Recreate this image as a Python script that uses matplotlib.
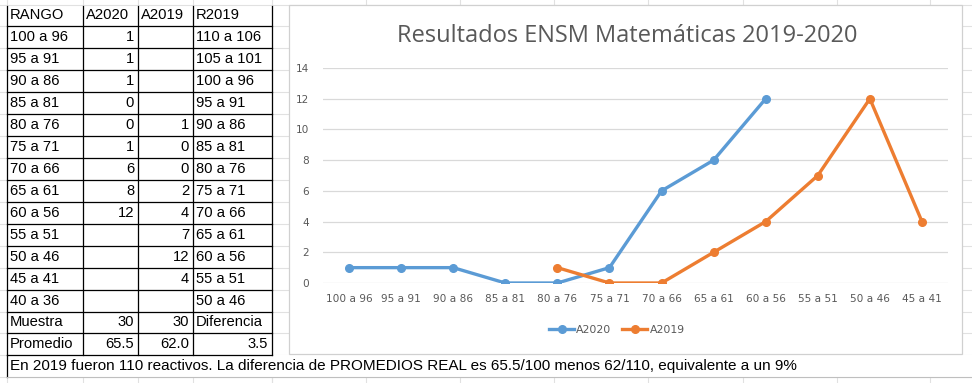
import numpy as np
import matplotlib
matplotlib.use("Agg")
import matplotlib.pyplot as plt
from matplotlib.patches import Rectangle

# data
categorias = ["100 a 96", "95 a 91", "90 a 86", "85 a 81", "80 a 76", "75 a 71",
              "70 a 66", "65 a 61", "60 a 56", "55 a 51", "50 a 46", "45 a 41"]
a2020 = [1, 1, 1, 0, 0, 1, 6, 8, 12, None, None, None]
a2019 = [None, None, None, None, 1, 0, 0, 2, 4, 7, 12, 4]

rango = categorias + ["40 a 36"]
r2019 = ["110 a 106", "105 a 101", "100 a 96", "95 a 91", "90 a 86", "85 a 81",
         "80 a 76", "75 a 71", "70 a 66", "65 a 61", "60 a 56", "55 a 51", "50 a 46"]
muestra = [30, 30]
promedio = [65.5, 62.0]
diferencia = 3.5
nota = ("En 2019 fueron 110 reactivos. La diferencia de PROMEDIOS REAL es "
        "65.5/100 menos 62/110, equivalente a un 9%")
titulo = "Resultados ENSM Matemáticas 2019-2020"

BLUE = "#5B9BD5"
ORANGE = "#ED7D31"
GRAY_TXT = "#595959"
GRID = "#D9D9D9"

W, H = 972, 383
fig = plt.figure(figsize=(W / 100, H / 100), dpi=100)

# background "sheet" in pixel coordinates
bg = fig.add_axes([0, 0, 1, 1])
bg.set_xlim(0, W)
bg.set_ylim(H, 0)
bg.axis("off")

row_h = 21.93
top = 4.5
col_x = [7, 83, 138, 193, 272]
sheet_cols = [272, 366, 460, 554, 648, 743, 837, 930]

# light spreadsheet gridlines
for k in range(-1, 18):
    y = top + k * row_h
    bg.plot([0, W], [y, y], color="#E1E1E1", lw=0.8, zorder=0)
for x in col_x + sheet_cols:
    bg.plot([x, x], [0, H], color="#E1E1E1", lw=0.8, zorder=0)

# table cells
n_rows = 16
tf = dict(family="Liberation Sans", fontsize=10.6, color="black", va="center")
headers = ["RANGO", "A2020", "A2019", "R2019"]
for j, h in enumerate(headers):
    bg.text(col_x[j] + 3, top + row_h / 2, h, ha="left", **tf)

for i in range(13):
    yc = top + (i + 1.5) * row_h
    bg.text(col_x[0] + 3, yc, rango[i], ha="left", **tf)
    if i < len(a2020) and a2020[i] is not None:
        bg.text(col_x[2] - 4, yc, str(a2020[i]), ha="right", **tf)
    if i < len(a2019) and a2019[i] is not None:
        bg.text(col_x[3] - 4, yc, str(a2019[i]), ha="right", **tf)
    bg.text(col_x[3] + 3, yc, r2019[i], ha="left", **tf)

yc = top + 14.5 * row_h
bg.text(col_x[0] + 3, yc, "Muestra", ha="left", **tf)
bg.text(col_x[2] - 4, yc, str(muestra[0]), ha="right", **tf)
bg.text(col_x[3] - 4, yc, str(muestra[1]), ha="right", **tf)
bg.text(col_x[3] + 3, yc, "Diferencia", ha="left", **tf)
yc = top + 15.5 * row_h
bg.text(col_x[0] + 3, yc, "Promedio", ha="left", **tf)
bg.text(col_x[2] - 4, yc, f"{promedio[0]:.1f}", ha="right", **tf)
bg.text(col_x[3] - 4, yc, f"{promedio[1]:.1f}", ha="right", **tf)
bg.text(col_x[4] - 4, yc, f"{diferencia:.1f}", ha="right", **tf)

# table borders
y_bottom = top + n_rows * row_h
bg.add_patch(Rectangle((col_x[0], y_bottom), W - col_x[0], row_h,
                       facecolor="white", edgecolor="none", zorder=1))
for k in range(1, n_rows + 1):
    y = top + k * row_h
    bg.plot([col_x[0], col_x[-1]], [y, y], color="black", lw=0.9, zorder=2)
for x in col_x:
    bg.plot([x, x], [top + row_h * 0.05, y_bottom], color="black", lw=0.9, zorder=2)
bg.plot([col_x[0], col_x[0]], [y_bottom, y_bottom + row_h], color="black", lw=0.9, zorder=2)
bg.plot([col_x[0], W], [y_bottom + row_h, y_bottom + row_h], color="#BFBFBF", lw=0.8, zorder=2)
nf = dict(tf, fontsize=10.95)
bg.text(col_x[0] + 3, y_bottom + row_h / 2, nota, ha="left", zorder=3, **nf)

# chart area
bg.add_patch(Rectangle((289, 5), 962 - 289, 354 - 5, facecolor="white",
                       edgecolor="#D0D0D0", lw=0.9, zorder=4))
bg.text((289 + 962) / 2 + 2, 36, titulo, ha="center", va="center", color=GRAY_TXT,
        family="Open Sans", fontsize=17, zorder=5)

ax = fig.add_axes([323 / W, (H - 283) / H, 625 / W, 215 / H], zorder=5)
ax.patch.set_alpha(0)
x = np.arange(len(categorias))
y20 = np.array([np.nan if v is None else v for v in a2020], dtype=float)
y19 = np.array([np.nan if v is None else v for v in a2019], dtype=float)
ax.plot(x, y20, color=BLUE, lw=2.4, marker="o", ms=5.5, label="A2020")
ax.plot(x, y19, color=ORANGE, lw=2.4, marker="o", ms=5.5, label="A2019")
ax.set_xlim(-0.5, len(categorias) - 0.5)
ax.set_ylim(0, 14)
ax.set_yticks(range(0, 15, 2))
ax.set_xticks(x)
ax.set_xticklabels(categorias)
ax.yaxis.grid(True, color=GRID, lw=0.9)
ax.set_axisbelow(True)
for s in ax.spines.values():
    s.set_visible(False)
ax.tick_params(length=0, colors=GRAY_TXT, labelsize=7.6, pad=8)
ax.tick_params(axis="y", pad=10)
for lab in ax.get_xticklabels() + ax.get_yticklabels():
    lab.set_family("Liberation Sans Narrow")

leg = fig.legend(loc="center", bbox_to_anchor=(617 / W, (H - 330) / H), ncol=2,
                 frameon=False, handlelength=2.3, columnspacing=1.0,
                 handletextpad=0.2, prop={"family": "Liberation Sans Narrow", "size": 7.8})
for t in leg.get_texts():
    t.set_color(GRAY_TXT)
leg.set_zorder(6)

fig.savefig("out.png", dpi=100)
